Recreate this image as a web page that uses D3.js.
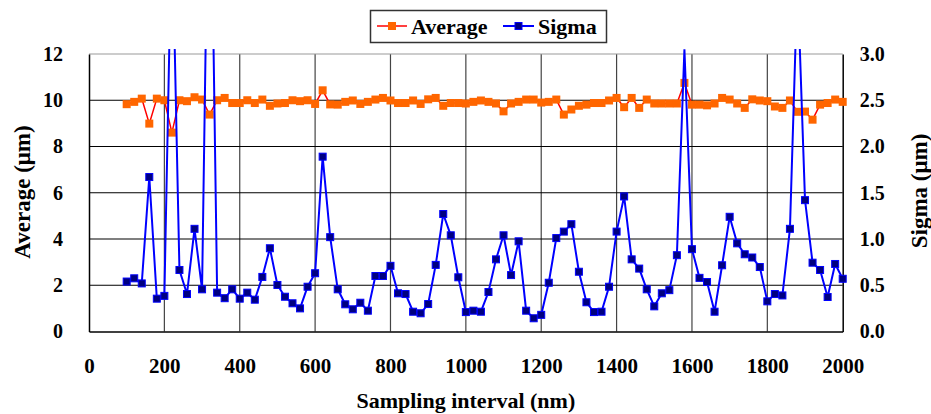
<!DOCTYPE html>
<meta charset="utf-8">
<style>
  body { margin: 0; background: #fff; }
  text { font-family: "Liberation Serif", "Times New Roman", serif; font-weight: bold; fill: #000; }
  .tick text { font-size: 20px; }
  .grid line { stroke: #000; stroke-width: 1.2px; }
  .vgrid line { stroke: #444; stroke-width: 1.2px; }
</style>
<svg width="931" height="414"></svg>
<script src="https://d3js.org/d3.v7.min.js"></script>
<script>

  // sampling interval (nm)
  var intervals = [100, 120, 140, 160, 180, 200, 220, 240, 260, 280, 300, 320, 340, 360, 380, 400,
    420, 440, 460, 480, 500, 520, 540, 560, 580, 600, 620, 640, 660, 680, 700, 720, 740, 760, 780, 800,
    820, 840, 860, 880, 900, 920, 940, 960, 980, 1000, 1020, 1040, 1060, 1080, 1100, 1120, 1140, 1160,
    1180, 1200, 1220, 1240, 1260, 1280, 1300, 1320, 1340, 1360, 1380, 1400, 1420, 1440, 1460, 1480,
    1500, 1520, 1540, 1560, 1580, 1600, 1620, 1640, 1660, 1680, 1700, 1720, 1740, 1760, 1780, 1800,
    1820, 1840, 1860, 1880, 1900, 1920, 1940, 1960, 1980, 2000];

  // Average (um), left axis
  var average = [9.83, 9.93, 10.07, 8.99, 10.07, 10.0, 8.6, 10.0, 9.96, 10.13, 10.03, 9.38, 10.0, 10.1, 9.88, 9.88,
    10.0, 9.88, 10.03, 9.76, 9.86, 9.88, 10.0, 9.96, 10.0, 9.84, 10.43, 9.82, 9.81, 9.93, 9.99, 9.84, 9.93, 10.03, 10.1, 9.99,
    9.88, 9.88, 9.99, 9.84, 10.04, 10.1, 9.76, 9.88, 9.88, 9.86, 9.93, 9.99, 9.93, 9.86, 9.52, 9.86, 9.93, 10.03,
    10.03, 9.9, 9.93, 10.03, 9.38, 9.6, 9.76, 9.81, 9.88, 9.88, 9.99, 10.1, 9.7, 10.1, 9.67, 10.03,
    9.86, 9.86, 9.86, 9.86, 10.75, 9.81, 9.81, 9.78, 9.86, 10.1, 10.03, 9.86, 9.67, 10.04, 9.99, 9.96,
    9.73, 9.67, 9.99, 9.5, 9.51, 9.16, 9.81, 9.88, 10.03, 9.93];

  // Sigma (um), right axis
  var sigma = [0.54, 0.575, 0.52, 1.67, 0.355, 0.385, 4.5, 0.665, 0.405, 1.11, 0.456, 6.0, 0.42, 0.36, 0.456, 0.355,
    0.42, 0.344, 0.59, 0.9, 0.503, 0.376, 0.305, 0.25, 0.484, 0.63, 1.89, 1.02, 0.456, 0.294, 0.24, 0.311, 0.225, 0.6, 0.6, 0.71,
    0.413, 0.405, 0.214, 0.197, 0.297, 0.72, 1.27, 1.04, 0.586, 0.21, 0.225, 0.214, 0.427, 0.78, 1.04, 0.61, 0.975, 0.225,
    0.143, 0.18, 0.527, 1.01, 1.08, 1.16, 0.646, 0.316, 0.21, 0.214, 0.484, 1.08, 1.46, 0.78, 0.68, 0.456,
    0.272, 0.413, 0.447, 0.825, 3.05, 0.89, 0.58, 0.535, 0.214, 0.716, 1.24, 0.953, 0.835, 0.80, 0.697, 0.326,
    0.405, 0.39, 1.11, 3.8, 1.42, 0.744, 0.665, 0.373, 0.73, 0.57];

  var xTicks = [0, 200, 400, 600, 800, 1000, 1200, 1400, 1600, 1800, 2000];
  var leftTicks = [0, 2, 4, 6, 8, 10, 12];
  var rightTicks = [0, 0.5, 1.0, 1.5, 2.0, 2.5, 3.0];

  var svg = d3.select("svg");
  var pLeft = 89, pRight = 842.7, pTop = 54, pBottom = 331.5;

  var x = d3.scaleLinear().domain([0, 2000]).range([pLeft, pRight]);
  var yL = d3.scaleLinear().domain([0, 12]).range([pBottom, pTop]);
  var yR = d3.scaleLinear().domain([0, 3]).range([pBottom, pTop]);

  var defs = svg.append("defs");
  defs.append("clipPath").attr("id", "clipLine").append("rect")
    .attr("x", pLeft - 4).attr("y", pTop - 5).attr("width", pRight - pLeft + 8).attr("height", pBottom - pTop + 9);
  defs.append("clipPath").attr("id", "clipMark").append("rect")
    .attr("x", pLeft - 6).attr("y", pTop - 1).attr("width", pRight - pLeft + 12).attr("height", pBottom - pTop + 8);

  // gridlines
  svg.append("g").attr("class", "vgrid")
    .selectAll("line").data(xTicks.slice(1, -1)).enter().append("line")
    .attr("x1", function (d) { return x(d); }).attr("x2", function (d) { return x(d); })
    .attr("y1", pTop).attr("y2", pBottom);
  svg.append("g").attr("class", "grid")
    .selectAll("line").data(leftTicks.slice(1, -1)).enter().append("line")
    .attr("x1", pLeft).attr("x2", pRight)
    .attr("y1", function (d) { return yL(d); }).attr("y2", function (d) { return yL(d); });

  // plot border (top)
  svg.append("line").attr("x1", pLeft).attr("x2", pRight).attr("y1", pTop).attr("y2", pTop)
    .attr("stroke", "#999").attr("stroke-width", 1.2);

  // axes
  var ax = svg.append("g").attr("transform", "translate(0," + pBottom + ")")
    .call(d3.axisBottom(x).tickValues(xTicks).tickSize(0).tickFormat(d3.format("d")));
  ax.selectAll(".tick text").attr("y", 34).attr("dy", "0.35em").style("font-size", "21px");

  svg.append("g").attr("transform", "translate(" + pLeft + ",0)")
    .call(d3.axisLeft(yL).tickValues(leftTicks).tickSize(0).tickPadding(26).tickFormat(d3.format("d")));

  svg.append("g").attr("transform", "translate(" + pRight + ",0)")
    .call(d3.axisRight(yR).tickValues(rightTicks).tickSize(0).tickPadding(17).tickFormat(d3.format(".1f")));

  svg.selectAll(".domain").attr("stroke", "#000").attr("stroke-width", 1.5);

  // axis titles
  svg.append("text").attr("transform", "translate(22,192) rotate(-90)")
    .attr("text-anchor", "middle").attr("dy", "0.35em").style("font-size", "23px").text("Average (μm)");
  svg.append("text").attr("transform", "translate(919,191) rotate(-90)")
    .attr("text-anchor", "middle").attr("dy", "0.35em").style("font-size", "23px").text("Sigma (μm)");
  svg.append("text").attr("x", (pLeft + pRight) / 2).attr("y", 408)
    .attr("text-anchor", "middle").style("font-size", "22px").text("Sampling interval (nm)");

  var avgData = intervals.map(function (d, i) { return [d, average[i]]; });
  var sigData = intervals.map(function (d, i) { return [d, sigma[i]]; });

  // Average series
  var gA = svg.append("g");
  gA.append("path").datum(avgData)
    .attr("clip-path", "url(#clipLine)")
    .attr("fill", "none").attr("stroke", "#ff0000").attr("stroke-width", 1.5)
    .attr("d", d3.line().x(function (d) { return x(d[0]); }).y(function (d) { return yL(d[1]); }));
  gA.append("g").attr("clip-path", "url(#clipMark)")
    .selectAll("rect").data(avgData).enter().append("rect")
    .attr("x", function (d) { return x(d[0]) - 4; })
    .attr("y", function (d) { return yL(d[1]) - 4; })
    .attr("width", 8).attr("height", 8)
    .attr("fill", "#ff6600");

  // Sigma series
  var gS = svg.append("g");
  gS.append("path").datum(sigData)
    .attr("clip-path", "url(#clipLine)")
    .attr("fill", "none").attr("stroke", "#0000ff").attr("stroke-width", 2)
    .attr("d", d3.line().x(function (d) { return x(d[0]); }).y(function (d) { return yR(d[1]); }));
  gS.append("g").attr("clip-path", "url(#clipMark)")
    .selectAll("rect").data(sigData.filter(function (d) { return d[1] <= 3; })).enter().append("rect")
    .attr("x", function (d) { return x(d[0]) - 3.5; })
    .attr("y", function (d) { return yR(d[1]) - 3.5; })
    .attr("width", 7).attr("height", 7)
    .attr("fill", "#000080").attr("stroke", "#0000ff").attr("stroke-width", 1);

  // legend
  var lg = svg.append("g");
  lg.append("rect").attr("x", 370.5).attr("y", 10.5).attr("width", 236).attr("height", 32)
    .attr("fill", "#fff").attr("stroke", "#333").attr("stroke-width", 1.5);
  lg.append("line").attr("x1", 377).attr("x2", 407).attr("y1", 26).attr("y2", 26)
    .attr("stroke", "#ff0000").attr("stroke-width", 1.5);
  lg.append("rect").attr("x", 388).attr("y", 22).attr("width", 8).attr("height", 8).attr("fill", "#ff6600");
  lg.append("text").attr("x", 411).attr("y", 26).attr("dy", "0.35em").style("font-size", "22px").text("Average");
  lg.append("line").attr("x1", 503).attr("x2", 534).attr("y1", 26).attr("y2", 26)
    .attr("stroke", "#0000ff").attr("stroke-width", 2);
  lg.append("rect").attr("x", 515).attr("y", 22.5).attr("width", 7).attr("height", 7)
    .attr("fill", "#000080").attr("stroke", "#0000ff");
  lg.append("text").attr("x", 538).attr("y", 26).attr("dy", "0.35em").style("font-size", "22px").text("Sigma");

</script>
